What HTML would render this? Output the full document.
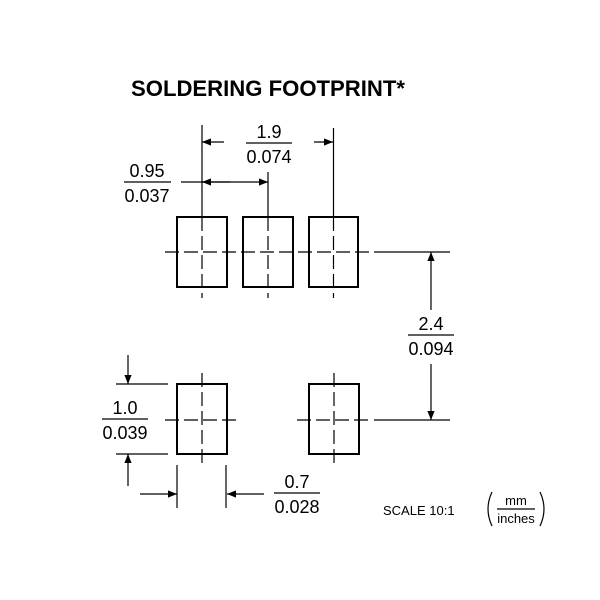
<!DOCTYPE html>
<html><head><meta charset="utf-8"><style>body{margin:0;background:#fff}svg{display:block}</style></head>
<body>
<svg width="600" height="600" viewBox="0 0 600 600" xmlns="http://www.w3.org/2000/svg" font-family="Liberation Sans, Arial, sans-serif">
<defs>
<marker id="a" viewBox="0 0 10 10" refX="10" refY="5" markerWidth="13" markerHeight="9" markerUnits="userSpaceOnUse" orient="auto"><path d="M0,1 L10,5 L0,9 z" fill="#000"/></marker>
</defs>
<text x="131" y="96" font-size="22" font-weight="bold" textLength="274" lengthAdjust="spacingAndGlyphs">SOLDERING FOOTPRINT*</text>
<g stroke="#000" fill="none" stroke-width="2">
<rect x="177" y="217" width="50" height="70"/>
<rect x="243" y="217" width="50" height="70"/>
<rect x="309" y="217" width="49" height="70"/>
<rect x="177" y="384" width="50" height="70"/>
<rect x="309" y="384" width="50" height="70"/>
</g>
<g stroke="#000" stroke-width="1.2" fill="none">
<line x1="202" y1="125" x2="202" y2="217"/>
<line x1="268" y1="172" x2="268" y2="217"/>
<line x1="333.5" y1="128" x2="333.5" y2="217"/>
<line x1="374" y1="252" x2="450" y2="252"/>
<line x1="374" y1="420" x2="450" y2="420"/>
<line x1="116" y1="384" x2="168" y2="384"/>
<line x1="116" y1="454" x2="168" y2="454"/>
<line x1="177" y1="465" x2="177" y2="508"/>
<line x1="226" y1="465" x2="226" y2="508"/>
<g stroke-dasharray="14,5">
<line x1="165" y1="252" x2="370" y2="252"/>
<line x1="165" y1="420" x2="240" y2="420"/>
<line x1="297" y1="420" x2="371" y2="420"/>
<line x1="202" y1="217" x2="202" y2="298"/>
<line x1="268" y1="217" x2="268" y2="298"/>
<line x1="333.5" y1="217" x2="333.5" y2="298"/>
<line x1="202" y1="373" x2="202" y2="465"/>
<line x1="334" y1="373" x2="334" y2="465"/>
</g>
<line x1="224" y1="142" x2="202" y2="142" marker-end="url(#a)"/>
<line x1="314" y1="142" x2="333" y2="142" marker-end="url(#a)"/>
<line x1="181" y1="182" x2="268" y2="182" marker-end="url(#a)"/>
<line x1="230" y1="182" x2="202" y2="182" marker-end="url(#a)"/>
<line x1="431" y1="310" x2="431" y2="252" marker-end="url(#a)"/>
<line x1="431" y1="364" x2="431" y2="420" marker-end="url(#a)"/>
<line x1="128" y1="355" x2="128" y2="384" marker-end="url(#a)"/>
<line x1="128" y1="486" x2="128" y2="454" marker-end="url(#a)"/>
<line x1="140" y1="494" x2="177" y2="494" marker-end="url(#a)"/>
<line x1="264" y1="494" x2="227" y2="494" marker-end="url(#a)"/>
<line x1="246" y1="143" x2="292" y2="143"/>
<line x1="124" y1="182" x2="171" y2="182"/>
<line x1="408" y1="335" x2="454" y2="335"/>
<line x1="102" y1="419" x2="148" y2="419"/>
<line x1="274" y1="493" x2="320" y2="493"/>
<line x1="497" y1="509" x2="535" y2="509"/>
</g>
<g font-size="18" text-anchor="middle">
<text x="269" y="138">1.9</text><text x="269" y="163">0.074</text>
<text x="147" y="177">0.95</text><text x="147" y="202">0.037</text>
<text x="431" y="330">2.4</text><text x="431" y="355">0.094</text>
<text x="125" y="414">1.0</text><text x="125" y="439">0.039</text>
<text x="297" y="488">0.7</text><text x="297" y="513">0.028</text>
</g>
<text x="383" y="515" font-size="13">SCALE 10:1</text>
<text x="516" y="505" font-size="13" text-anchor="middle">mm</text>
<text x="516" y="523" font-size="13" text-anchor="middle">inches</text>
<path d="M492,492 Q484,509 492,526" stroke="#000" fill="none" stroke-width="1.2"/>
<path d="M540,492 Q548,509 540,526" stroke="#000" fill="none" stroke-width="1.2"/>
</svg>
</body></html>
